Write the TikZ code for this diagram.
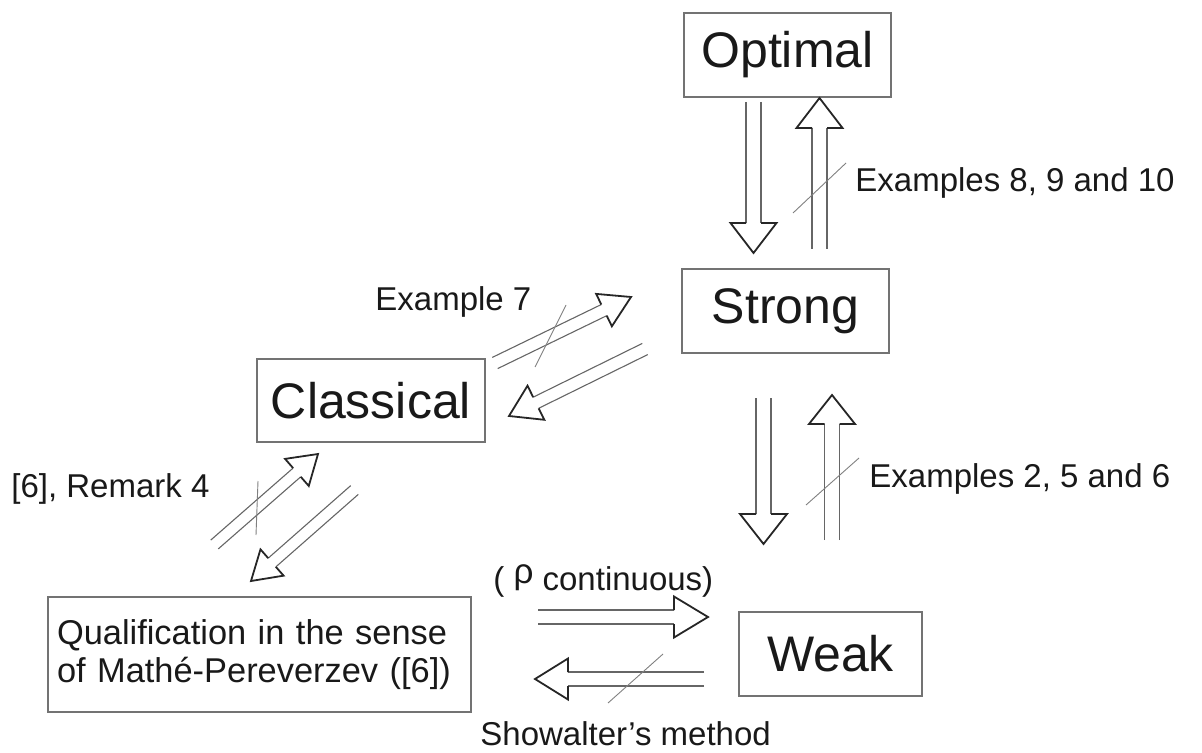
\documentclass[tikz,border=0pt]{standalone}
\usepackage{fontspec}
\setmainfont{Liberation Sans}
\usetikzlibrary{calc}
\tikzset{
  box/.style={draw=black!55, line width=0.6pt, inner sep=0pt, text=black!90, font=\fontsize{25}{30}\selectfont},
  lbl/.style={inner sep=0pt, anchor=base west, text=black!90, font=\fontsize{16.5}{19}\selectfont},
  shaftline/.style={draw=black!60, line width=0.55pt},
  headline/.style={draw=black!85, line width=0.9pt, line join=miter},
  slash/.style={draw=black!50, line width=0.45pt}
}
% #1 start (shaft mid), #2 tip, #3 head length, #4 head half width, #5 shaft half separation
\newcommand\hollowarrow[5]{%
  \coordinate (hb) at ($(#2)!#3!(#1)$);
  \draw[shaftline] ($(#1)!#5!90:(#2)$) -- ($(hb)!#5!90:(#2)$);
  \draw[shaftline] ($(#1)!#5!-90:(#2)$) -- ($(hb)!#5!-90:(#2)$);
  \draw[headline] ($(hb)!#5!90:(#2)$) -- ($(hb)!#4!90:(#2)$) -- (#2) -- ($(hb)!#4!-90:(#2)$) -- ($(hb)!#5!-90:(#2)$);
}
\begin{document}
\begin{tikzpicture}[x=0.5pt,y=-0.5pt]
\useasboundingbox (0,0) rectangle (1202,753);
% boxes
\node[box, minimum width=103.5pt, minimum height=42pt] (opt) at (787.5,55) {Optimal};
\node[box, minimum width=103.5pt, minimum height=42pt] (str) at (785.5,311) {Strong};
\node[box, minimum width=114pt, minimum height=41.5pt] (cla) at (371,400.5) {Classical};
\node[box, minimum width=91.5pt, minimum height=42pt] (wea) at (830.5,654) {Weak};
\node[box, minimum width=211.5pt, minimum height=57.5pt, inner xsep=4.5pt, text width=202.5pt, align=left,
      font=\fontsize{17.2}{19}\selectfont] (qua) at (259.5,654.5)
      {Qualification in the sense\\of Mathé-Pereverzev ([6])};
% arrow end points
\coordinate (osS) at (753.5,102); \coordinate (osT) at (753.5,253);
\coordinate (soS) at (819.5,249); \coordinate (soT) at (819.5,98);
\coordinate (swS) at (763.5,398); \coordinate (swT) at (763.5,544);
\coordinate (wsS) at (832,540);   \coordinate (wsT) at (832,395);
\coordinate (qwS) at (538,617);   \coordinate (qwT) at (708,617);
\coordinate (wqS) at (704,679);   \coordinate (wqT) at (535,679);
\coordinate (csS) at (495,363);   \coordinate (csT) at (631,297);
\coordinate (scS) at (645,349);   \coordinate (scT) at (509,416);
\coordinate (qcS) at (214.5,544.5); \coordinate (qcT) at (318,454);
\coordinate (cqS) at (354.5,490); \coordinate (cqT) at (251,581);
% arrows
\hollowarrow{osS}{osT}{15pt}{11.5pt}{3.75pt}
\hollowarrow{soS}{soT}{15pt}{11.5pt}{3.75pt}
\hollowarrow{swS}{swT}{15pt}{11.75pt}{3.75pt}
\hollowarrow{wsS}{wsT}{14.5pt}{11.5pt}{3.75pt}
\hollowarrow{qwS}{qwT}{17pt}{10.25pt}{3.5pt}
\hollowarrow{wqS}{wqT}{16.5pt}{10.25pt}{3.5pt}
\hollowarrow{csS}{csT}{15pt}{9pt}{3.1pt}
\hollowarrow{scS}{scT}{15pt}{9.5pt}{3.1pt}
\hollowarrow{qcS}{qcT}{14pt}{9pt}{2.9pt}
\hollowarrow{cqS}{cqT}{14pt}{8.75pt}{2.9pt}
% slashes (negations)
\coordinate (s1a) at (793,213); \coordinate (s1b) at (846,163);
\coordinate (s2a) at (806,505); \coordinate (s2b) at (859,458);
\coordinate (s3a) at (535,367); \coordinate (s3b) at (566,305);
\coordinate (s4a) at (258,481); \coordinate (s4b) at (256,535);
\coordinate (s5a) at (608,703); \coordinate (s5b) at (663,654);
\draw[slash] (s1a) -- (s1b);
\draw[slash] (s2a) -- (s2b);
\draw[slash] (s3a) -- (s3b);
\draw[slash] (s4a) -- (s4b);
\draw[slash] (s5a) -- (s5b);
% labels
\node[lbl] (l1) at (855,192) {Examples 8, 9 and 10};
\node[lbl] (l2) at (869,487) {Examples 2, 5 and 6};
\node[lbl] (l3) at (375,310) {Example 7};
\node[lbl] (l4) at (11,497) {[6], Remark 4};
\node[lbl] (l5) at (493,590) {( \raisebox{3.3pt}{\fontsize{17.5}{19}\selectfont ρ} continuous)};
\node[lbl] (l6) at (480,745) {Showalter’s method};
\end{tikzpicture}
\end{document}
